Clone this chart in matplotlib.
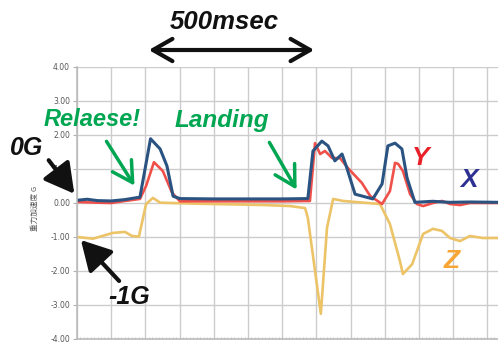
"""
Drop test: 3-axis acceleration around release and landing
"""

import numpy as np
import matplotlib
matplotlib.use('Agg')
import matplotlib.pyplot as plt
from matplotlib.ticker import MultipleLocator, FormatStrFormatter

# time (msec) and acceleration (G) for each axis
t_x = [0, 30, 60, 100, 140, 170, 184, 215, 243, 263, 281, 301, 400, 500,
       600, 675, 690, 716, 734, 754, 775, 789, 813, 865, 892, 909, 930,
       950, 965, 988, 1040, 1090, 1150, 1231]
acc_x = [0.08, 0.11, 0.07, 0.06, 0.10, 0.15, 0.17, 1.89, 1.59, 1.09, 0.20,
         0.13, 0.12, 0.12, 0.12, 0.13, 1.53, 1.82, 1.68, 1.24, 1.44, 1.03,
         0.26, 0.12, 0.56, 1.68, 1.76, 1.59, 0.74, 0.02, 0.05, 0.02, 0.03,
         0.02]

t_y = [0, 60, 100, 140, 170, 184, 202, 225, 251, 278, 301, 400, 500, 600,
       681, 696, 711, 725, 746, 769, 792, 833, 857, 892, 915, 930, 939,
       953, 974, 994, 1012, 1041, 1067, 1091, 1120, 1149, 1187, 1231]
acc_y = [0.03, 0.01, 0.00, 0.06, 0.10, 0.12, 0.50, 1.20, 0.94, 0.30, 0.05,
         0.05, 0.05, 0.05, 0.06, 1.76, 1.44, 1.53, 1.32, 1.32, 1.03, 0.59,
         0.21, -0.03, 0.35, 1.18, 1.15, 0.94, 0.26, -0.03, -0.09, 0.00,
         0.06, -0.03, -0.06, 0.00, 0.00, 0.00]

t_z = [0, 47, 105, 140, 161, 181, 202, 222, 243, 350, 450, 550, 623, 667,
       675, 713, 731, 749, 778, 886, 915, 944, 953, 980, 1012, 1041, 1067,
       1091, 1120, 1149, 1187, 1231]
acc_z = [-1.00, -1.05, -0.88, -0.85, -0.97, -0.99, -0.03, 0.15, 0.01,
         -0.02, -0.04, -0.06, -0.09, -0.15, -0.44, -3.26, -0.73, 0.12, 0.06,
         -0.03, -0.62, -1.70, -2.09, -1.80, -0.91, -0.76, -0.82, -1.03,
         -1.12, -0.97, -1.03, -1.03]

W, H = 498, 344
BOLD_IT = dict(family=['Liberation Sans', 'DejaVu Sans'],
               weight='bold', style='italic')
GREEN = '#00a651'


def fp(x, y):
    # pixel position (top-left origin) -> figure fraction
    return x / W, 1 - y / H


fig = plt.figure(figsize=(W / 100, H / 100), dpi=100)
ax = fig.add_axes([77 / W, 1 - 339 / H, 1 - 77 / W, (339 - 67) / H])

ax.plot(t_z, acc_z, color='#ecc467', lw=1.9, solid_joinstyle='round')
ax.plot(t_y, acc_y, color='#f0504a', lw=1.9, solid_joinstyle='round')
ax.plot(t_x, acc_x, color='#2a5382', lw=2.2, solid_joinstyle='round')

ax.set_xlim(0, 1231)
ax.set_ylim(-4, 4)
ax.xaxis.set_major_locator(MultipleLocator(100))
ax.xaxis.set_minor_locator(MultipleLocator(10))
ax.yaxis.set_major_locator(MultipleLocator(1))
ax.yaxis.set_major_formatter(FormatStrFormatter('%.2f'))
ax.set_xticklabels([])
ax.tick_params(axis='x', which='both', direction='in', length=1.5,
               color='#c0c0c0')
ax.tick_params(axis='y', length=3, color='#b0b0b0', labelsize=5.5,
               labelcolor='#555555', pad=2)
ax.grid(True, color='#cccccc', lw=1)
ax.set_axisbelow(True)
for s in ['top', 'right']:
    ax.spines[s].set_visible(False)
for s in ['left', 'bottom']:
    ax.spines[s].set_color('#bbbbbb')
    ax.spines[s].set_linewidth(1.2)

fig.text(*fp(35, 208), '重力加速度 G', rotation=90, ha='center',
         va='center', fontsize=5.5, color='#555555',
         family=['Noto Sans CJK JP', 'DejaVu Sans'])

# 500 msec span
fig.text(*fp(224, 22), '500msec', ha='center', va='center', fontsize=18.5,
         color='#111111', **BOLD_IT)
ax.annotate('', xy=fp(146, 50), xytext=fp(317, 50),
            xycoords='figure fraction', textcoords='figure fraction',
            arrowprops=dict(arrowstyle='<->,head_length=0.7,head_width=0.4',
                            lw=3, color='#111111', mutation_scale=20))

# release / landing markers
fig.text(*fp(92, 120), 'Relaese!', ha='center', va='center', fontsize=17,
         color=GREEN, **BOLD_IT)
fig.text(*fp(222, 121), 'Landing', ha='center', va='center', fontsize=17.5,
         color=GREEN, **BOLD_IT)
for start, tip in [((105, 139), (136, 188)), ((268, 140), (298, 192))]:
    ax.annotate('', xy=fp(*tip), xytext=fp(*start),
                xycoords='figure fraction', textcoords='figure fraction',
                arrowprops=dict(arrowstyle='->,head_length=0.8,head_width=0.45',
                                lw=2.5, color=GREEN, mutation_scale=18))

# 0G / -1G references
fig.text(*fp(27, 148), '0G', ha='center', va='center', fontsize=18,
         color='#111111', **BOLD_IT)
fig.text(*fp(129, 297), '-1G', ha='center', va='center', fontsize=18,
         color='#111111', **BOLD_IT)
for start, tip in [((47, 158), (76, 196)), ((121, 283), (79, 238))]:
    ax.annotate('', xy=fp(*tip), xytext=fp(*start),
                xycoords='figure fraction', textcoords='figure fraction',
                arrowprops=dict(arrowstyle='-|>,head_length=0.9,head_width=0.5',
                                lw=3, color='#111111', mutation_scale=20))

# axis names
fig.text(*fp(421, 158), 'Y', ha='center', va='center', fontsize=19,
         color='#e8202a', **BOLD_IT)
fig.text(*fp(469, 180), 'X', ha='center', va='center', fontsize=19,
         color='#2e3192', **BOLD_IT)
fig.text(*fp(452, 261), 'Z', ha='center', va='center', fontsize=19,
         color='#f7a535', **BOLD_IT)

fig.savefig('out.png', dpi=100)
